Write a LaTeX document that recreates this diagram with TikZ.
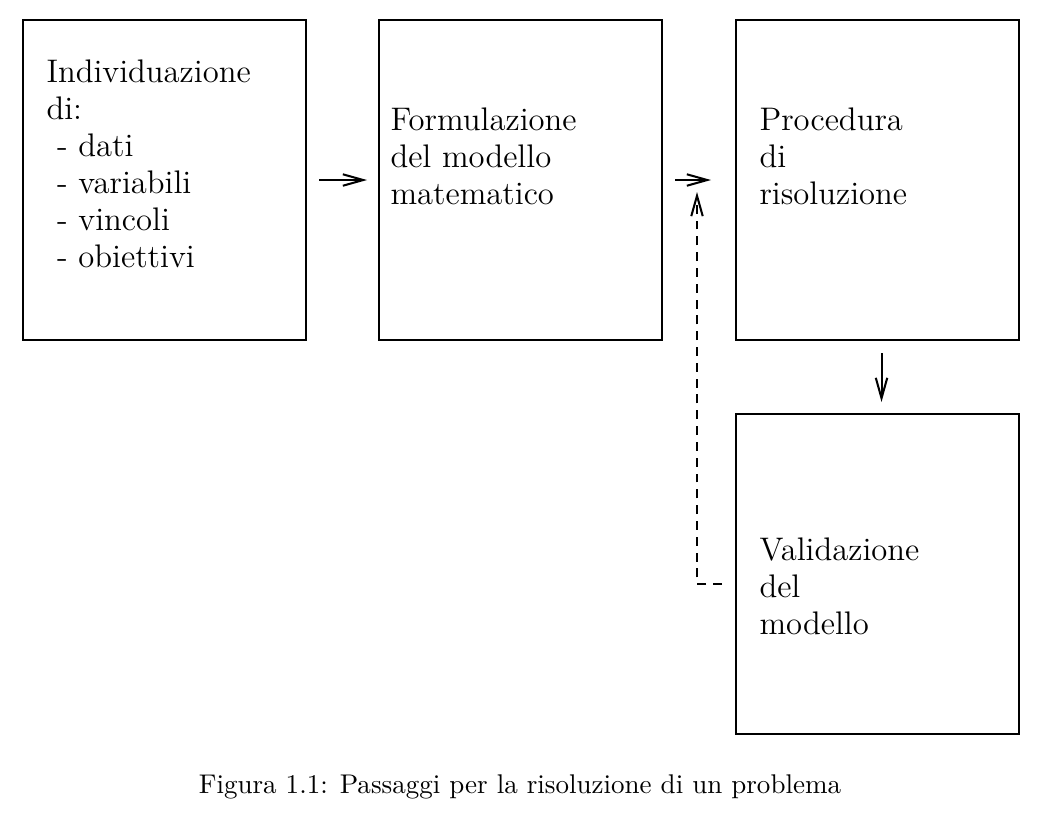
\documentclass[tikz,border=0pt]{standalone}
\usepackage{tikz}
\usetikzlibrary{arrows.meta}

\begin{document}
\begin{tikzpicture}[x=0.01378cm, y=-0.01378cm,
  stepbox/.style={rectangle, draw, line width=0.8pt, minimum width=283*0.01378cm, minimum height=320*0.01378cm, anchor=north west, inner sep=0pt},
  boxtext/.style={align=left, anchor=north west, inner sep=0pt, font=\fontsize{12.8}{14.5}\selectfont},
  flow/.style={line width=0.8pt, -{Straight Barb[length=8pt,width=4.5pt]}},
  back/.style={flow, dash pattern=on 3.5pt off 2.7pt}]
  \useasboundingbox (0,0) rectangle (1046,817);
  % boxes
  \node[stepbox] (ind) at (22,19) {};
  \node[stepbox] (form) at (378,19) {};
  \node[stepbox] (proc) at (735,19) {};
  \node[stepbox] (valid) at (735,413) {};
  % texts
  \node[boxtext] (indtxt) at (46,59) {Individuazione\\di:\\ \ - dati\\ \ - variabili\\ \ - vincoli\\ \ - obiettivi};
  \node[boxtext] (formtxt) at (390,107) {Formulazione\\del modello\\matematico};
  \node[boxtext] (proctxt) at (759,107) {Procedura\\di\\risoluzione};
  \node[boxtext] (validtxt) at (759,537) {Validazione\\del\\modello};
  % arrows
  \draw[flow, shorten <=12*0.392pt, shorten >=11*0.392pt] (ind) -- (form);
  \draw[flow, shorten <=12*0.392pt, shorten >=24*0.392pt] (form) -- (proc);
  \draw[flow, shorten <=12*0.392pt, shorten >=11*0.392pt] ([xshift=4*0.392pt]proc.south) -- ([xshift=4*0.392pt]valid.north);
  \coordinate (fbstart) at (722,584);
  \coordinate (fbend) at (697,192);
  \draw[back] (fbstart) -| (fbend);
  % caption
  \node[font=\fontsize{10.6}{12}\selectfont] (cap) at (520,787) {Figura 1.1: Passaggi per la risoluzione di un problema};
\end{tikzpicture}
\end{document}
